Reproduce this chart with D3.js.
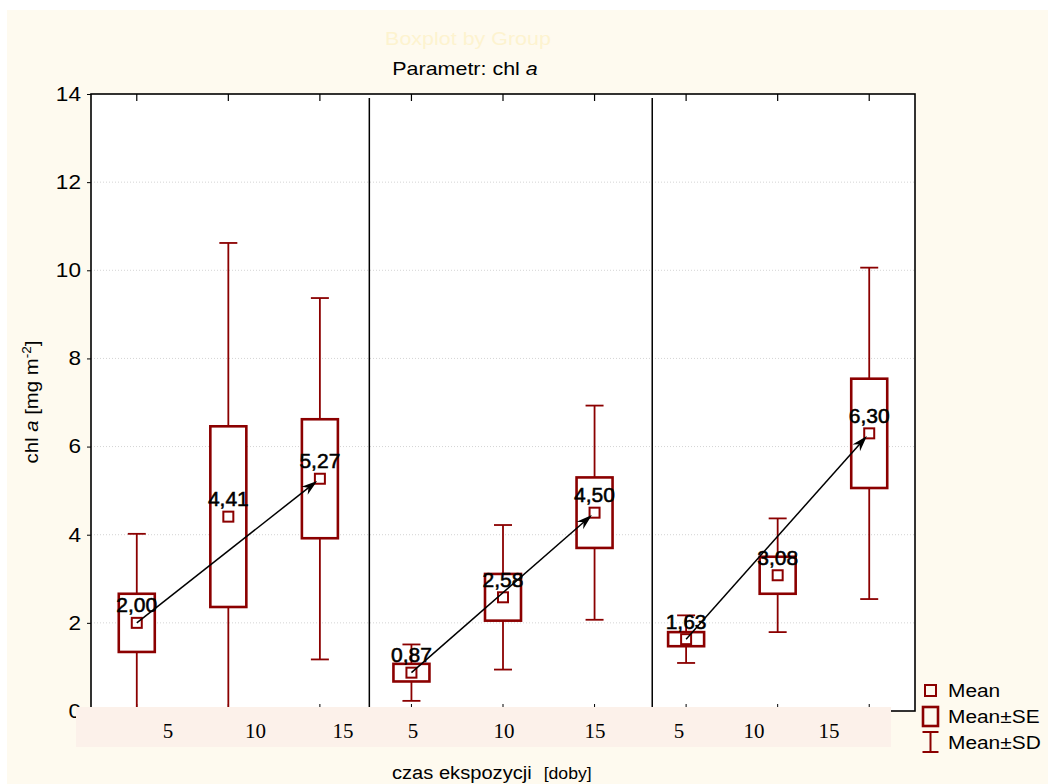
<!DOCTYPE html>
<html>
<head>
<meta charset="utf-8">
<script src="https://cdn.jsdelivr.net/npm/d3@7"></script>
<style>
  html, body { margin: 0; padding: 0; background: #ffffff; }
  svg { display: block; }
</style>
</head>
<body>
<svg id="chart" width="1048" height="784"></svg>
<script>
// Exposure time (days) within each of the three panels
const days = [5, 10, 15];
const panelCount = 3;

// chl a [mg m-2] per group, panel by panel (5, 10, 15 days)
const meanVals = [2.00, 4.41, 5.27, 0.87, 2.58, 4.50, 1.63, 3.08, 6.30];
const seVals   = [0.66, 2.05, 1.35, 0.20, 0.53, 0.80, 0.16, 0.42, 1.24];
const sdVals   = [2.02, 6.21, 4.10, 0.64, 1.64, 2.43, 0.54, 1.29, 3.76];

// Y axis ticks
const yTicks = [0, 2, 4, 6, 8, 10, 12, 14];
// Panel dividers, in group units along the x axis
const panelBreaks = [3.04, 6.13];
// Legend entries
const legendItems = ["Mean", "Mean\u00b1SE", "Mean\u00b1SD"];

const RED = "#8b0000";
const SANS = "'Liberation Sans', Arial, sans-serif";
const SERIF = "'Liberation Serif', 'Times New Roman', serif";
const SX = 1.13; // horizontal stretch of the sans-serif lettering

const svg = d3.select("#chart");

// stretched text helper
function sText(parent, x, y, size, anchor) {
  return parent.append("text")
    .attr("transform", `translate(${x},${y}) scale(${SX},1)`)
    .attr("font-size", size)
    .attr("text-anchor", anchor || "start")
    .style("font-family", SANS)
    .style("fill", "#000");
}

// page background
svg.append("rect").attr("x", 0).attr("y", 0).attr("width", 1048).attr("height", 784).attr("fill", "#ffffff");
svg.append("rect").attr("x", 7).attr("y", 10).attr("width", 1041).attr("height", 774).attr("fill", "#fefaef");

const x = d3.scaleLinear().domain([0, meanVals.length]).range([91, 915]);
const y = d3.scaleLinear().domain([0, 14]).range([711, 94]);
const cx = i => x(i + 0.5);

const fmt = d3.formatLocale({decimal: ",", thousands: " ", grouping: [3], currency: ["", ""]}).format(".2f");

// plot area
svg.append("rect")
  .attr("x", x(0)).attr("y", y(14))
  .attr("width", x(meanVals.length) - x(0)).attr("height", y(0) - y(14))
  .attr("fill", "#ffffff");

svg.append("defs").append("clipPath").attr("id", "plotClip")
  .append("rect")
  .attr("x", x(0)).attr("y", y(14))
  .attr("width", x(meanVals.length) - x(0)).attr("height", y(0) - y(14));

// dotted grid
svg.append("g").selectAll("line")
  .data(yTicks.filter(t => t > 0 && t < 14))
  .join("line")
  .attr("x1", x(0)).attr("x2", x(meanVals.length))
  .attr("y1", d => y(d)).attr("y2", d => y(d))
  .attr("stroke", "#d4d4d4").attr("stroke-width", 1).attr("stroke-dasharray", "1,2");

// panel dividers
svg.append("g").selectAll("line")
  .data(panelBreaks)
  .join("line")
  .attr("x1", d => x(d)).attr("x2", d => x(d))
  .attr("y1", y(14) + 4).attr("y2", y(0))
  .attr("stroke", "#000").attr("stroke-width", 1.5);

// top and bottom ticks at each group
const tickG = svg.append("g");
meanVals.forEach((m, i) => {
  tickG.append("line").attr("x1", cx(i)).attr("x2", cx(i)).attr("y1", y(14)).attr("y2", y(14) + 7)
    .attr("stroke", "#000").attr("stroke-width", 1.2);
  tickG.append("line").attr("x1", cx(i)).attr("x2", cx(i)).attr("y1", y(0)).attr("y2", y(0) - 7)
    .attr("stroke", "#000").attr("stroke-width", 1);
});

// boxes: whiskers (mean ± SD), box (mean ± SE), mean marker
const boxW = 36, capW = 18, markS = 10;
const plot = svg.append("g").attr("clip-path", "url(#plotClip)");
const groups = plot.selectAll("g.grp")
  .data(meanVals.map((m, i) => ({i, m, se: seVals[i], sd: sdVals[i]})))
  .join("g").attr("class", "grp");

groups.append("line")
  .attr("x1", d => cx(d.i)).attr("x2", d => cx(d.i))
  .attr("y1", d => y(d.m + d.sd)).attr("y2", d => y(d.m - d.sd))
  .attr("stroke", RED).attr("stroke-width", 1.8);
groups.append("line")
  .attr("x1", d => cx(d.i) - capW / 2).attr("x2", d => cx(d.i) + capW / 2)
  .attr("y1", d => y(d.m + d.sd)).attr("y2", d => y(d.m + d.sd))
  .attr("stroke", RED).attr("stroke-width", 1.8);
groups.append("line")
  .attr("x1", d => cx(d.i) - capW / 2).attr("x2", d => cx(d.i) + capW / 2)
  .attr("y1", d => y(d.m - d.sd)).attr("y2", d => y(d.m - d.sd))
  .attr("stroke", RED).attr("stroke-width", 1.8);
groups.append("rect")
  .attr("x", d => cx(d.i) - boxW / 2).attr("width", boxW)
  .attr("y", d => y(d.m + d.se)).attr("height", d => y(d.m - d.se) - y(d.m + d.se))
  .attr("fill", "#ffffff").attr("stroke", RED).attr("stroke-width", 2.6);
groups.append("rect")
  .attr("x", d => cx(d.i) - markS / 2).attr("y", d => y(d.m) - markS / 2)
  .attr("width", markS).attr("height", markS)
  .attr("fill", "#ffffff").attr("stroke", RED).attr("stroke-width", 2);

// trend arrows from the 5-day to the 15-day mean in each panel
const arrowG = svg.append("g");
for (let p = 0; p < panelCount; p++) {
  const a = p * days.length, b = a + days.length - 1;
  const x1 = cx(a), y1 = y(meanVals[a]);
  const x2 = cx(b), y2 = y(meanVals[b]);
  const ang = Math.atan2(y2 - y1, x2 - x1);
  const tx = x2 - 3.5 * Math.cos(ang), ty = y2 - 3.5 * Math.sin(ang);
  arrowG.append("line")
    .attr("x1", x1).attr("y1", y1)
    .attr("x2", tx - 8 * Math.cos(ang)).attr("y2", ty - 8 * Math.sin(ang))
    .attr("stroke", "#000").attr("stroke-width", 1.5);
  arrowG.append("path")
    .attr("d", "M0,0 L-16,-5 L-11,0 L-16,5 Z")
    .attr("transform", `translate(${tx},${ty}) rotate(${ang * 180 / Math.PI})`)
    .attr("fill", "#000");
}

// mean value labels
svg.append("g").selectAll("text")
  .data(meanVals)
  .join("text")
  .attr("x", (d, i) => cx(i)).attr("y", d => y(d) - 10.5)
  .attr("text-anchor", "middle")
  .attr("font-size", 21)
  .style("font-family", SANS)
  .style("fill", "#000")
  .style("stroke", "#000").style("stroke-width", 0.55)
  .text(d => fmt(d));

// frame
svg.append("rect")
  .attr("x", x(0)).attr("y", y(14))
  .attr("width", x(meanVals.length) - x(0)).attr("height", y(0) - y(14))
  .attr("fill", "none").attr("stroke", "#000").attr("stroke-width", 1.6);

// y axis
const yAxis = svg.append("g")
  .attr("transform", `translate(${x(0)},0)`)
  .call(d3.axisLeft(y).tickValues(yTicks).tickSize(4).tickPadding(6).tickFormat(d3.format("d")));
yAxis.select(".domain").remove();
yAxis.selectAll(".tick line").attr("stroke", "#000");
yAxis.selectAll(".tick text")
  .attr("x", -10 / SX)
  .attr("transform", `scale(${SX},1)`)
  .attr("font-size", 20)
  .style("font-family", SANS)
  .style("fill", "#000");

// category strip under the plot
svg.append("rect").attr("x", 76).attr("y", 707).attr("width", 815).attr("height", 40).attr("fill", "#fcf1ea");
const stripRanges = [[168, 343], [413, 595], [679, 829]];
stripRanges.forEach(r => {
  const s = d3.scaleLinear().domain([days[0], days[days.length - 1]]).range(r);
  svg.append("g").selectAll("text")
    .data(days)
    .join("text")
    .attr("x", d => s(d)).attr("y", 738)
    .attr("text-anchor", "middle")
    .attr("font-size", 21)
    .style("font-family", SERIF)
    .style("fill", "#000")
    .text(d => d);
});

// titles
sText(svg, 468, 45, 19, "middle").style("fill", "#fdf3cf").text("Boxplot by Group");
const t = sText(svg, 465, 75, 19, "middle");
t.append("tspan").text("Parametr: chl ");
t.append("tspan").attr("font-style", "italic").text("a");

// x axis title
const xt = sText(svg, 392, 779, 17.8, "start");
xt.append("tspan").text("czas ekspozycji");
xt.append("tspan").attr("dx", 12 / SX).attr("font-size", 15.6).text("[doby]");

// y axis title
const yt = svg.append("text")
  .attr("transform", `translate(38,402) rotate(-90) scale(${SX},1)`)
  .attr("text-anchor", "middle").attr("font-size", 18)
  .style("font-family", SANS).style("fill", "#000");
yt.append("tspan").text("chl ");
yt.append("tspan").attr("font-style", "italic").text("a");
yt.append("tspan").text(" [mg m");
yt.append("tspan").attr("font-size", 12).attr("dy", -7).text("-2");
yt.append("tspan").attr("dy", 7).text("]");

// legend
const lg = svg.append("g");
const lx = 930.5;
lg.append("rect").attr("x", lx - 5.5).attr("y", 685).attr("width", 11).attr("height", 11)
  .attr("fill", "none").attr("stroke", RED).attr("stroke-width", 2);
lg.append("rect").attr("x", lx - 7.5).attr("y", 707).attr("width", 15).attr("height", 19)
  .attr("fill", "none").attr("stroke", RED).attr("stroke-width", 2.6);
lg.append("line").attr("x1", lx).attr("x2", lx).attr("y1", 732).attr("y2", 752).attr("stroke", RED).attr("stroke-width", 2);
lg.append("line").attr("x1", lx - 8).attr("x2", lx + 8).attr("y1", 732).attr("y2", 732).attr("stroke", RED).attr("stroke-width", 2);
lg.append("line").attr("x1", lx - 8).attr("x2", lx + 8).attr("y1", 752).attr("y2", 752).attr("stroke", RED).attr("stroke-width", 2);
legendItems.forEach((d, i) => {
  sText(lg, 948, 697 + i * 26, 18.5, "start").text(d);
});
</script>
</body>
</html>
